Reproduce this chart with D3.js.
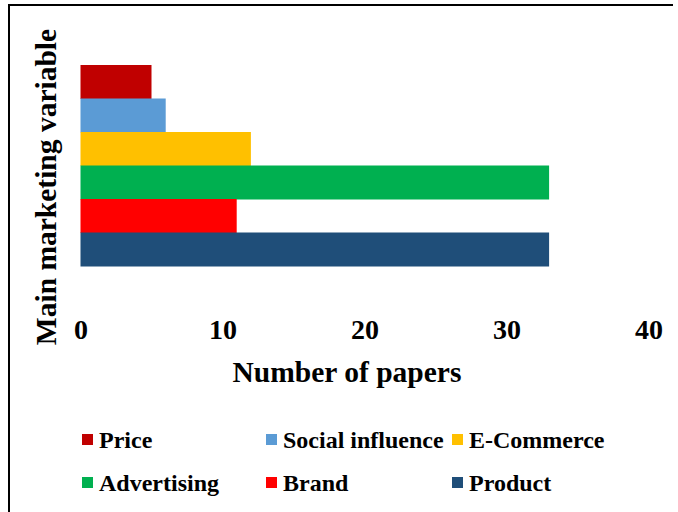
<!DOCTYPE html>
<html>
<head>
<meta charset="utf-8">
<script src="https://cdn.jsdelivr.net/npm/d3@7"></script>
<style>
  html, body { margin: 0; padding: 0; background: #fff; }
  svg { display: block; }
  text { font-family: "Liberation Serif", "Times New Roman", serif; font-weight: bold; fill: #000; }
</style>
</head>
<body>
<svg id="chart" width="678" height="512"></svg>
<script>
// Papers per main marketing variable
const categories = ["Price", "Social influence", "E-Commerce", "Advertising", "Brand", "Product"];
const paperCounts = [5, 6, 12, 33, 11, 33];
const barColors = ["#C00000", "#5B9BD5", "#FFC000", "#00B050", "#FF0000", "#1F4E79"];
const xTicks = [0, 10, 20, 30, 40];

const svg = d3.select("#chart");

// frame
svg.append("path")
  .attr("d", "M9,512 V5 H673")
  .attr("fill", "none")
  .attr("stroke", "#000")
  .attr("stroke-width", 2);

const x = d3.scaleLinear().domain([0, 40]).range([80.5, 648.5]);
const y = d3.scaleBand().domain(categories).range([65, 266]).padding(0);

// bars
svg.append("g")
  .selectAll("rect")
  .data(categories)
  .join("rect")
  .attr("x", x(0))
  .attr("y", d => y(d))
  .attr("width", (d, i) => x(paperCounts[i]) - x(0))
  .attr("height", y.bandwidth() + 0.5)
  .attr("fill", (d, i) => barColors[i]);

// x axis: labels only
const xAxis = svg.append("g")
  .attr("transform", "translate(0,310)")
  .call(d3.axisBottom(x).tickValues(xTicks).tickSize(0).tickPadding(0));
xAxis.select(".domain").remove();
xAxis.selectAll("text")
  .attr("dy", null)
  .attr("y", 29)
  .style("font-family", "'Liberation Serif', serif")
  .style("font-weight", "bold")
  .style("font-size", "28px")
  .attr("fill", "#000");

// axis titles
svg.append("text")
  .attr("x", 347)
  .attr("y", 382)
  .attr("text-anchor", "middle")
  .style("font-size", "29.5px")
  .text("Number of papers");

svg.append("text")
  .attr("transform", "translate(56,187) rotate(-90)")
  .attr("text-anchor", "middle")
  .style("font-size", "29.5px")
  .text("Main marketing variable");

// legend, three per row
const legendCols = [82, 266, 452];
const legendRows = [434, 477];
const legend = svg.append("g")
  .selectAll("g")
  .data(categories)
  .join("g")
  .attr("transform", (d, i) => `translate(${legendCols[i % 3]},${legendRows[Math.floor(i / 3)]})`);
legend.append("rect")
  .attr("width", 11)
  .attr("height", 11)
  .attr("fill", (d, i) => barColors[i]);
legend.append("text")
  .attr("x", 17)
  .attr("y", 14)
  .style("font-size", "24px")
  .text(d => d);
</script>
</body>
</html>
